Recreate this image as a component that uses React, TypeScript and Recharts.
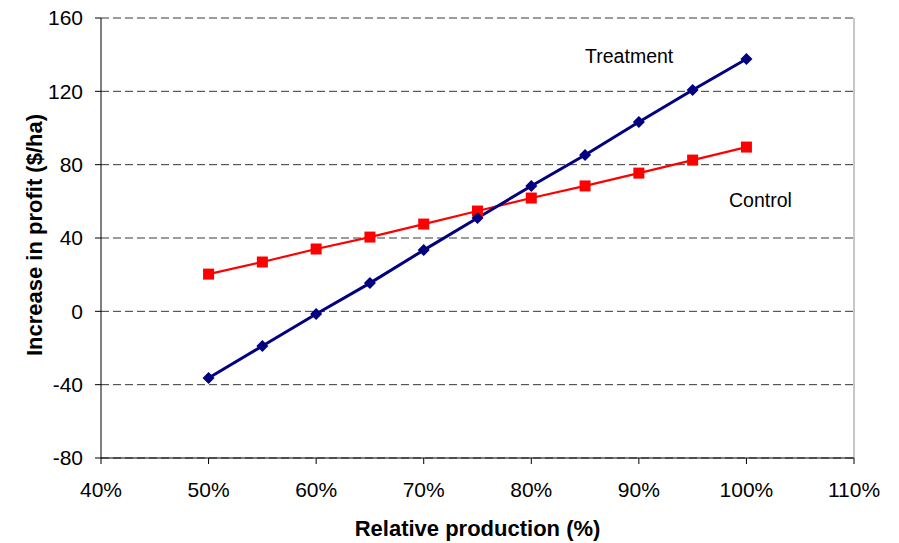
import {
  CartesianGrid,
  ComposedChart,
  Line,
  ReferenceDot,
  ReferenceLine,
  XAxis,
  YAxis,
} from 'recharts';

const production = [50, 55, 60, 65, 70, 75, 80, 85, 90, 95, 100];
const treatment = [-36.4, -18.9, -1.5, 15.4, 33.4, 50.9, 68.4, 85.3, 103.3, 120.7, 137.6];
const control = [20.3, 26.9, 34.0, 40.5, 47.6, 54.7, 61.8, 68.4, 75.4, 82.5, 89.6];
const xTicks = [40, 50, 60, 70, 80, 90, 100, 110];
const yTicks = [-80, -40, 0, 40, 80, 120, 160];

const data = production.map((p, i) => ({
  production: p,
  treatment: treatment[i],
  control: control[i],
}));

const FONT = '"Liberation Sans", Arial, sans-serif';

const Diamond = (props: any) => {
  const { cx, cy, index } = props;
  if (cx == null || cy == null) return <g key={index} />;
  const r = 6;
  return (
    <path
      key={index}
      d={`M${cx},${cy - r}L${cx + r},${cy}L${cx},${cy + r}L${cx - r},${cy}Z`}
      fill="#000080"
    />
  );
};

const Square = (props: any) => {
  const { cx, cy, index } = props;
  if (cx == null || cy == null) return <g key={index} />;
  const s = 5.5;
  return <rect key={index} x={cx - s} y={cy - s} width={s * 2} height={s * 2} fill="#ff0000" />;
};

const XTitle = ({ viewBox }: any) => (
  <text
    x={viewBox.x + viewBox.width / 2}
    y={viewBox.y + 70}
    textAnchor="middle"
    dominantBaseline="central"
    fill="#000"
    fontSize={22}
    fontWeight="bold"
    fontFamily={FONT}
  >
    Relative production (%)
  </text>
);

const YTitle = ({ viewBox }: any) => {
  const cx = viewBox.x + 34;
  const cy = viewBox.y + viewBox.height / 2 - 3;
  return (
    <text
      x={cx}
      y={cy}
      transform={`rotate(-90 ${cx} ${cy})`}
      textAnchor="middle"
      dominantBaseline="central"
      fill="#000"
      fontSize={22}
      fontWeight="bold"
      fontFamily={FONT}
    >
      Increase in profit ($/ha)
    </text>
  );
};

export default function App() {
  return (
    <div style={{ position: 'absolute', left: 0, top: 0, background: '#fff', fontFamily: FONT }}>
      <ComposedChart
        width={899}
        height={543}
        data={data}
        margin={{ top: 18, right: 45, bottom: 0, left: 0 }}
      >
        <CartesianGrid
          vertical={false}
          stroke="#383838"
          strokeDasharray="8 4"
          horizontalValues={yTicks}
        />
        <ReferenceLine x={110} stroke="#909090" strokeWidth={1} />
        <XAxis
          type="number"
          dataKey="production"
          domain={[40, 110]}
          ticks={xTicks}
          tickFormatter={(v: number) => `${v}%`}
          height={85}
          tickSize={6}
          tickMargin={18}
          stroke="#000"
          tick={{ fill: '#000', fontSize: 21, fontFamily: FONT }}
          label={<XTitle />}
        />
        <YAxis
          type="number"
          domain={[-80, 160]}
          ticks={yTicks}
          width={101}
          tickSize={6}
          tickMargin={12}
          stroke="#000"
          tick={{ fill: '#000', fontSize: 21, fontFamily: FONT }}
          label={<YTitle />}
        />
        <Line
          dataKey="control"
          stroke="#ff0000"
          strokeWidth={2.2}
          dot={Square}
          activeDot={false}
          isAnimationActive={false}
        />
        <Line
          dataKey="treatment"
          stroke="#000080"
          strokeWidth={3}
          dot={Diamond}
          activeDot={false}
          isAnimationActive={false}
        />
        <ReferenceDot
          x={89.1}
          y={139.3}
          r={0}
          label={{ value: 'Treatment', position: 'center', fill: '#000', fontSize: 19.5, fontFamily: FONT }}
        />
        <ReferenceDot
          x={101.3}
          y={60.7}
          r={0}
          label={{ value: 'Control', position: 'center', fill: '#000', fontSize: 19.5, fontFamily: FONT }}
        />
      </ComposedChart>
    </div>
  );
}
